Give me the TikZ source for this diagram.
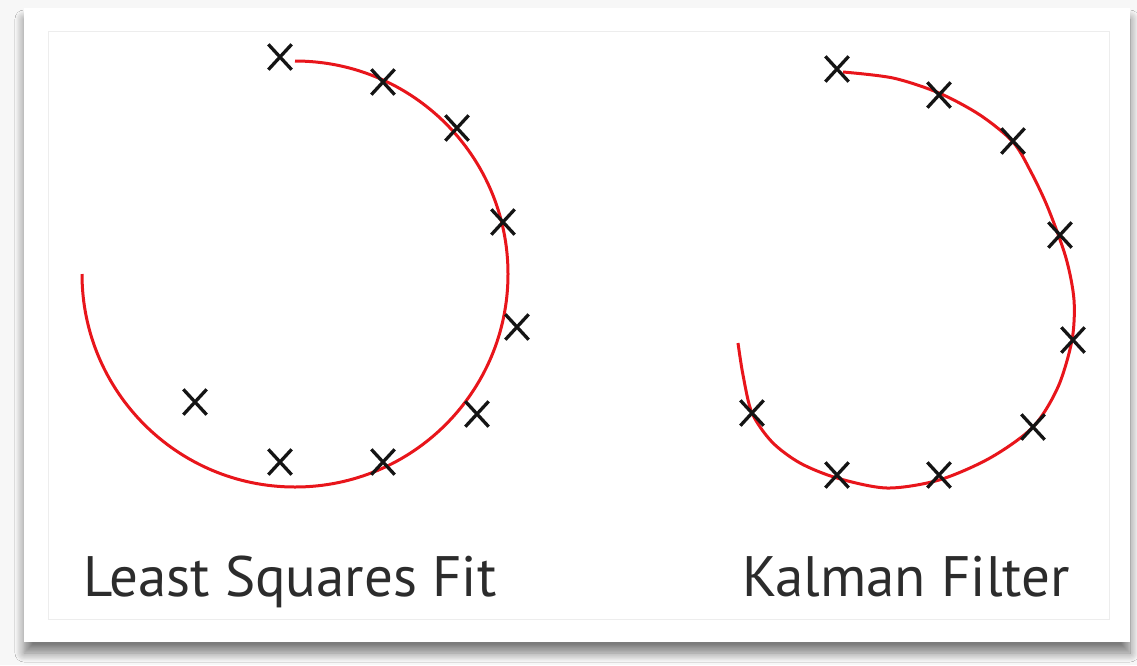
\documentclass[tikz,border=0pt]{standalone}
\usepackage{fontspec}
\setmainfont{PT Sans}
\usetikzlibrary{shadows.blur,shapes.misc,positioning}
\definecolor{fitRed}{HTML}{E8151B}
\definecolor{fitInk}{HTML}{141414}
\definecolor{pageBg}{HTML}{F7F7F7}
\definecolor{frameLine}{HTML}{EDEDED}

\begin{document}
\begin{tikzpicture}[x=1pt,y=-1pt,
  meas/.style={cross out,draw=fitInk,line width=3.3pt,inner sep=0pt,
               minimum width=20pt,minimum height=22pt},
  track/.style={draw=fitRed,line width=3pt},
  caption/.style={anchor=base west,inner sep=0pt,text=fitInk!90,
                  font=\fontsize{57}{64}\selectfont},
]
\useasboundingbox (0,0) rectangle (1137,665);
\fill[pageBg] (0,0) rectangle (1137,665);
% card with its shadow
\node[draw=none,fill=white,inner sep=0pt,minimum width=1106pt,minimum height=634pt,
      blur shadow={shadow xshift=0pt,shadow yshift=-11pt,shadow blur steps=12,
                   shadow blur radius=9pt,shadow blur extra rounding=0pt,
                   shadow opacity=50}]
  (card) at (577,325) {};
\node[draw=frameLine,line width=1pt,inner sep=0pt,minimum width=1061pt,minimum height=588pt]
  (frame) at (578.5,325) {};

% least squares fit
\coordinate (lsc) at (295,274);
\draw[track] (lsc) ++(180:213pt) arc[start angle=180,end angle=450,radius=213pt];
\node[meas] (l1) at (280,57) {};
\node[meas] (l2) at (383,82) {};
\node[meas] (l3) at (457,128) {};
\node[meas] (l4) at (503,222) {};
\node[meas] (l5) at (517,327) {};
\node[meas] (l6) at (477,414) {};
\node[meas] (l7) at (383,462) {};
\node[meas] (l8) at (280,462) {};
\node[meas] (l9) at (195,402) {};
\node[caption] (lscap) at (83,596) {Least Squares Fit};

% kalman filter
\draw[track] plot[smooth,tension=0.5] coordinates {
  (738,343) (743,375) (752,413) (772,442) (800,463) (837,478) (887,488)
  (939,480) (990,458) (1033,427) (1058,387) (1072,340) (1074,300)
  (1066,258) (1048,208) (1031,172) (1013,142) (980,115) (939,93)
  (893,78) (843,72)};
\node[meas] (k1) at (837,69) {};
\node[meas] (k2) at (939,95) {};
\node[meas] (k3) at (1013,141) {};
\node[meas] (k4) at (1060,235) {};
\node[meas] (k5) at (1073,340) {};
\node[meas] (k6) at (1033,427) {};
\node[meas] (k7) at (939,475) {};
\node[meas] (k8) at (837,475) {};
\node[meas] (k9) at (752,413) {};
\node[caption] (kfcap) at (742,596) {Kalman Filter};
\end{tikzpicture}
\end{document}
